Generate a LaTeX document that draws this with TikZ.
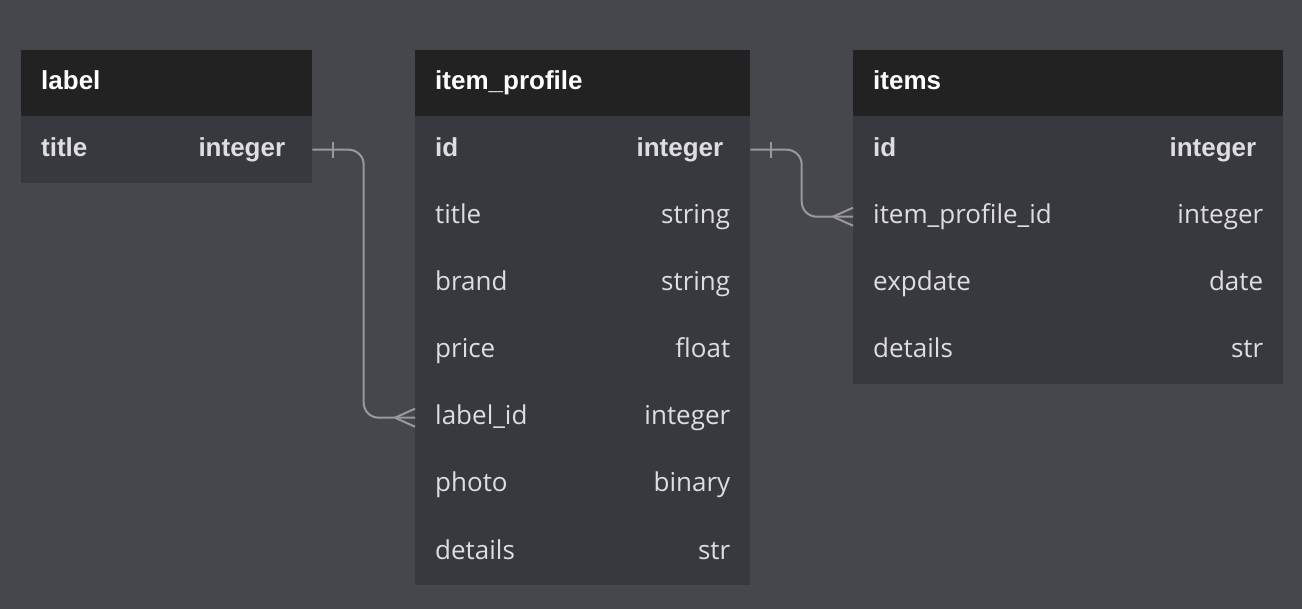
\documentclass[tikz,border=0pt]{standalone}
\usepackage{fontspec}
\setmainfont{Open Sans}
\newfontfamily\hfont{Liberation Sans}
\usetikzlibrary{calc,positioning}
\definecolor{bgc}{RGB}{70,71,76}
\definecolor{headc}{RGB}{34,34,34}
\definecolor{rowc}{RGB}{56,57,62}
\definecolor{linec}{RGB}{152,152,157}
\definecolor{txtc}{RGB}{222,222,225}

\begin{document}
\begin{tikzpicture}[x=1pt,y=-1pt]
  \tikzstyle{hnode} = [fill=headc, rectangle, anchor=north west, inner sep=0pt, minimum height=66pt]
  \tikzstyle{rnode} = [fill=rowc, rectangle, anchor=north west, inner sep=0pt, minimum height=67pt]
  \tikzstyle{htext} = [text=white, inner sep=0pt, anchor=base west, font=\hfont\bfseries\fontsize{26}{30}\selectfont]
  \tikzstyle{ktext} = [text=txtc, inner sep=0pt, font=\hfont\bfseries\fontsize{26}{30}\selectfont]
  \tikzstyle{ftext} = [text=txtc, inner sep=0pt, font=\fontsize{26}{30}\selectfont]
  \tikzstyle{rel} = [draw=linec, line width=2pt]

  \fill[bgc] (0,0) rectangle (1302,609);

  % label
  \node[hnode, minimum width=291pt] (lbl-head) at (21,50) {};
  \node[htext] at ([xshift=20pt,yshift=-40pt]lbl-head.north west) {label};
  \node[rnode, minimum width=291pt] (lbl-title) at (21,116) {};
  \node[ktext, anchor=base west] at ([xshift=20pt,yshift=-41pt]lbl-title.north west) {title};
  \node[ktext, anchor=base east] at ([xshift=-27pt,yshift=-41pt]lbl-title.north east) {integer};

  % item_profile
  \node[hnode, minimum width=335pt] (prof-head) at (415,50) {};
  \node[htext] at ([xshift=20pt,yshift=-40pt]prof-head.north west) {item\_profile};
  \node[rnode, minimum width=335pt] (prof-id) at (415,116) {};
  \node[ktext, anchor=base west] at ([xshift=20pt,yshift=-41pt]prof-id.north west) {id};
  \node[ktext, anchor=base east] at ([xshift=-27pt,yshift=-41pt]prof-id.north east) {integer};
  \foreach \n/\l/\r [count=\i] in {title/title/string, brand/brand/string, price/price/float,
      labelid/label\_id/integer, photo/photo/binary, details/details/str} {
    \node[rnode, minimum width=335pt] (prof-\n) at (415,{116+67*\i}) {};
    \node[ftext, anchor=base west] at ([xshift=20pt,yshift=-41pt]prof-\n.north west) {\l};
    \node[ftext, anchor=base east] at ([xshift=-20pt,yshift=-41pt]prof-\n.north east) {\r};
  }

  % items
  \node[hnode, minimum width=430pt] (items-head) at (853,50) {};
  \node[htext] at ([xshift=20pt,yshift=-40pt]items-head.north west) {items};
  \node[rnode, minimum width=430pt] (items-id) at (853,116) {};
  \node[ktext, anchor=base west] at ([xshift=20pt,yshift=-41pt]items-id.north west) {id};
  \node[ktext, anchor=base east] at ([xshift=-27pt,yshift=-41pt]items-id.north east) {integer};
  \foreach \n/\l/\r [count=\i] in {pid/item\_profile\_id/integer, expdate/expdate/date, details/details/str} {
    \node[rnode, minimum width=430pt] (items-\n) at (853,{116+67*\i}) {};
    \node[ftext, anchor=base west] at ([xshift=20pt,yshift=-41pt]items-\n.north west) {\l};
    \node[ftext, anchor=base east] at ([xshift=-20pt,yshift=-41pt]items-\n.north east) {\r};
  }

  % relations
  \draw[rel, rounded corners=15pt] (lbl-title.east) -| ($(lbl-title.east)!.5!(prof-labelid.west)$) |- (prof-labelid.west);
  \draw[rel] ([xshift=21pt,yshift=8pt]lbl-title.east) -- ([xshift=21pt,yshift=-8pt]lbl-title.east);
  \draw[rel] ([xshift=-20pt]prof-labelid.west) -- ([yshift=9pt]prof-labelid.west)
             ([xshift=-20pt]prof-labelid.west) -- ([yshift=-9pt]prof-labelid.west);

  \draw[rel, rounded corners=15pt] (prof-id.east) -| ($(prof-id.east)!.5!(items-pid.west)$) |- (items-pid.west);
  \draw[rel] ([xshift=21pt,yshift=8pt]prof-id.east) -- ([xshift=21pt,yshift=-8pt]prof-id.east);
  \draw[rel] ([xshift=-20pt]items-pid.west) -- ([yshift=9pt]items-pid.west)
             ([xshift=-20pt]items-pid.west) -- ([yshift=-9pt]items-pid.west);
\end{tikzpicture}
\end{document}
